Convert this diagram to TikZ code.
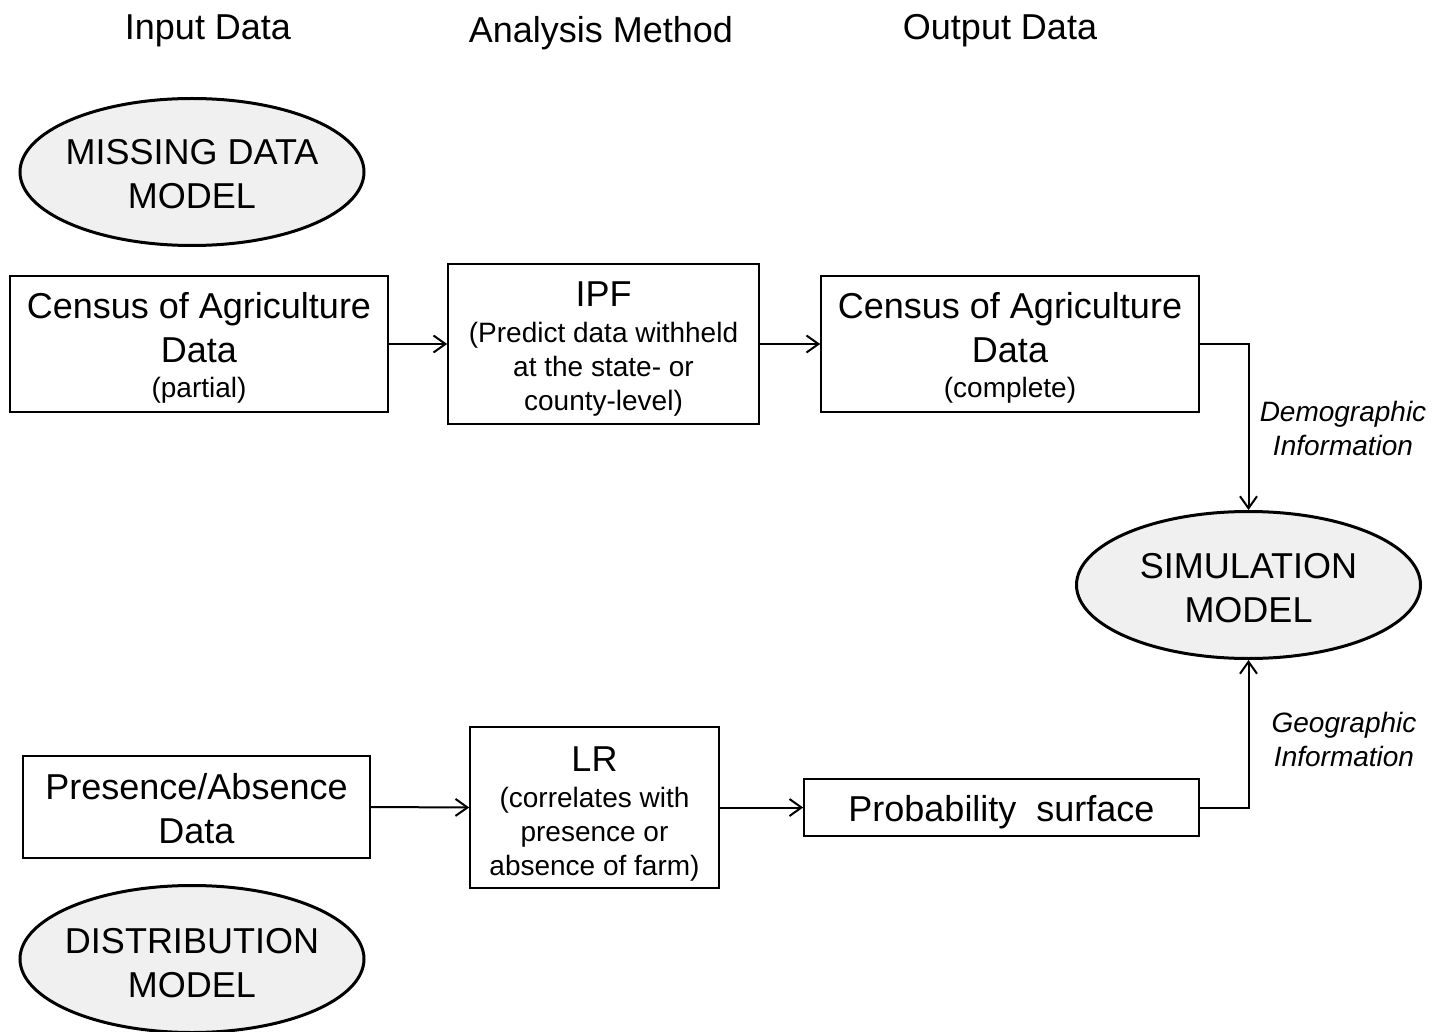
\documentclass[tikz,border=0pt]{standalone}
\usepackage{fontspec}
\setmainfont{Liberation Sans}
\usetikzlibrary{shapes.geometric,arrows.meta}
\definecolor{ellfill}{HTML}{F0F0F0}
\newcommand{\bigf}{\fontsize{36}{44}\selectfont}
\newcommand{\smf}{\fontsize{28}{34}\selectfont}
\newcommand{\st}[1]{\rule{0pt}{#1pt}}
\begin{document}
\begin{tikzpicture}[x=1pt,y=-1pt,
  box/.style={draw=black,line width=1.6pt,inner sep=0pt,align=center,font=\bigf},
  ell/.style={draw=black,line width=3pt,fill=ellfill,ellipse,inner sep=-8pt,align=center,font=\bigf,minimum width=344pt,minimum height=147pt},
  head/.style={font=\bigf,anchor=base,inner sep=0pt},
  lab/.style={font=\smf\itshape,align=center,inner sep=0pt},
  arr/.style={line width=2pt,-{Straight Barb[length=12pt,width=17pt,line width=2pt]}}]
\useasboundingbox (0,0) rectangle (1443,1032);
% headers
\node[head] (h1) at (208,40) {Input Data};
\node[head] (h2) at (601,43) {Analysis Method};
\node[head] (h3) at (1000,40) {Output Data};
% ellipses
\node[ell] (mdm) at (192,172) {\st{30}MISSING DATA\\MODEL};
\node[ell] (sim) at (1248.5,585) {\st{32}SIMULATION\\MODEL};
\node[ell] (dist) at (192,959) {\st{34}DISTRIBUTION\\MODEL};
% boxes
\node[box,minimum width=378pt,minimum height=136pt] (c1) at (199,344)
  {\st{34}Census of Agriculture\\Data\\[-9pt]{\smf (partial)}};
\node[box,minimum width=311pt,minimum height=160pt] (ipf) at (603.5,344)
  {\st{34}IPF\\[-8pt]{\smf (Predict data withheld}\\[-10pt]{\smf at the state- or}\\[-10pt]{\smf county-level)}};
\node[box,minimum width=378pt,minimum height=136pt] (c2) at (1010,344)
  {\st{34}Census of Agriculture\\Data\\[-9pt]{\smf (complete)}};
\node[box,minimum width=347pt,minimum height=102pt] (pa) at (196.5,807)
  {\st{30}Presence/Absence\\Data};
\node[box,minimum width=249pt,minimum height=161pt] (lr) at (594.5,807.5)
  {\st{38}LR\\[-8pt]{\smf (correlates with}\\[-10pt]{\smf presence or}\\[-10pt]{\smf absence of farm)}};
\node[box,minimum width=395pt,minimum height=57pt] (ps) at (1001.5,807.5)
  {\st{36}Probability\ \ surface};
% labels
\node[lab] (demo) at (1343,428) {Demographic\\Information};
\node[lab] (geo) at (1344,739) {Geographic\\Information};
% connectors
\draw[arr] (c1.east) -- (ipf.west);
\draw[arr] (ipf.east) -- (c2.west);
\draw[arr] (c2.east) -| (sim.north);
\draw[arr] (pa.east) -- (lr.west);
\draw[arr] (lr.east) -- (ps.west);
\draw[arr] (ps.east) -| (sim.south);
\end{tikzpicture}
\end{document}
